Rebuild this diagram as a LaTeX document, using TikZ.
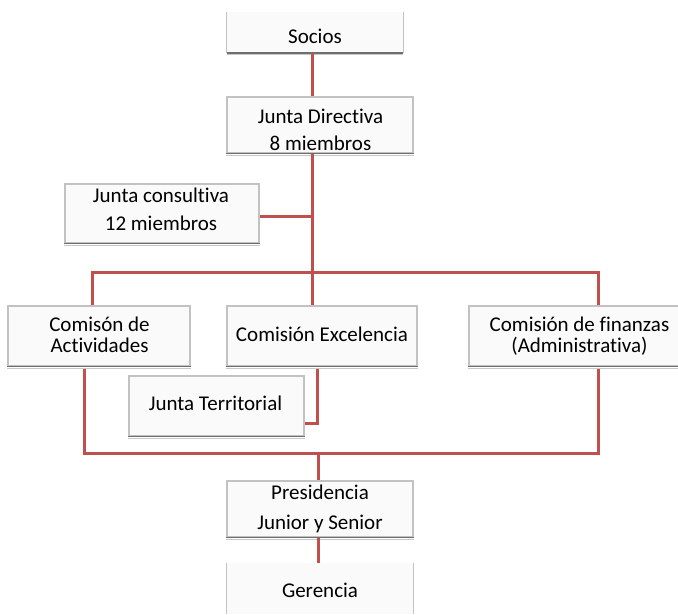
\documentclass[tikz,border=0pt]{standalone}
\usepackage{fontspec}
\setmainfont{Carlito}[Ligatures=NoCommon]
\definecolor{linkred}{HTML}{C0504D}
\definecolor{boxfill}{HTML}{FAFAFA}
\definecolor{boxedge}{HTML}{C2C2C2}
\definecolor{boxbase}{HTML}{6E6E6E}
\definecolor{boxshade}{HTML}{C8C8C8}
\begin{document}
\begin{tikzpicture}[x=1pt,y=-1pt,
  box/.style={draw=boxedge, line width=1.1pt, fill=boxfill, inner sep=0pt, minimum height=#1},
  box/.default=60pt,
  openbox/.style={fill=boxfill, inner sep=0pt, minimum height=#1},
  side/.style={draw=boxedge, line width=1.1pt},
  base/.style={draw=boxbase, line width=1.6pt},
  shade/.style={draw=boxshade, line width=1pt},
  txt/.style={anchor=base, inner sep=0pt, font=\fontsize{21}{25}\selectfont},
  link/.style={draw=linkred, line width=3pt}]
\useasboundingbox (0,0) rectangle (678,614);

% boxes
\node[openbox=41pt, minimum width=176pt] (socios) at (315,32.5) {};
\draw[side] (socios.north west) -- (socios.south west);
\draw[side] (socios.north east) -- (socios.south east);
\node[box=56pt, minimum width=186pt] (jd) at (320,125) {};
\node[box=59pt, minimum width=194pt] (jc) at (162,213.5) {};
\node[box=60pt, minimum width=182pt] (act) at (99,336) {};
\node[box=60pt, minimum width=190pt] (exc) at (322,336) {};
\node[box=60pt, minimum width=221pt] (fin) at (579.5,336) {};
\node[box=60pt, minimum width=175pt] (jt) at (216.5,406) {};
\node[box=56pt, minimum width=186pt] (pres) at (320,509) {};
\node[openbox=51pt, minimum width=186pt] (ger) at (320,588.5) {};
\draw[side] (ger.north west) -- (ger.south west);
\draw[side] (ger.north east) -- (ger.south east);

% dark lower edges with a faint shadow
\foreach \b in {socios,jd,jc,act,exc,fin,jt,pres}{
  \draw[shade] ([yshift=-1.6pt]\b.south west) -- ([yshift=-1.6pt]\b.south east);
  \draw[base] (\b.south west) -- (\b.south east);
}

% labels
\node[txt] (tsocios) at (315,43) {Socios};
\node[txt] (tjd1) at (320.5,123) {Junta Directiva};
\node[txt] (tjd2) at (320.5,150) {8 miembros};
\node[txt] (tjc1) at (161,202) {Junta consultiva};
\node[txt] (tjc2) at (161,230) {12 miembros};
\node[txt] (tact1) at (99.5,331) {Comisón de};
\node[txt] (tact2) at (99.5,352) {Actividades};
\node[txt] (texc) at (322,341.5) {Comisión Excelencia};
\node[txt] (tfin1) at (579.5,331) {Comisión de finanzas};
\node[txt] (tfin2) at (579.5,352) {(Administrativa)};
\node[txt] (tjt) at (215.5,410.5) {Junta Territorial};
\node[txt] (tpres1) at (320,499) {Presidencia};
\node[txt] (tpres2) at (320,529) {Junior y Senior};
\node[txt] (tger) at (320,597) {Gerencia};

% connector points
\coordinate (trunk) at (312,0);
\coordinate (busL) at (92,272);
\coordinate (busR) at (598,272);
\coordinate (actout) at (84,369);
\coordinate (finout) at (598,369);
\coordinate (lowL) at (84,453);
\coordinate (lowR) at (598,453);
\coordinate (excout) at (317,369);
\coordinate (elbow) at (317,423);
\coordinate (mid) at (318,453);

% connectors
\draw[link] (socios.south -| trunk) -- (jd.north -| trunk);
\draw[link] (jd.south -| trunk) -- (exc.north -| trunk);
\draw[link] (jc.east |- 0,216) -- (trunk |- 0,216);
\draw[link] (act.north -| busL) -- (busL) -- (busR) -- (fin.north -| busR);
\draw[link] (actout) -- (lowL) -- (lowR) -- (finout);
\draw[link] (excout) -- (elbow) -- (jt.east |- elbow);
\draw[link] (mid) -- (pres.north -| mid);
\draw[link] (pres.south -| mid) -- (ger.north -| mid);
\end{tikzpicture}
\end{document}
